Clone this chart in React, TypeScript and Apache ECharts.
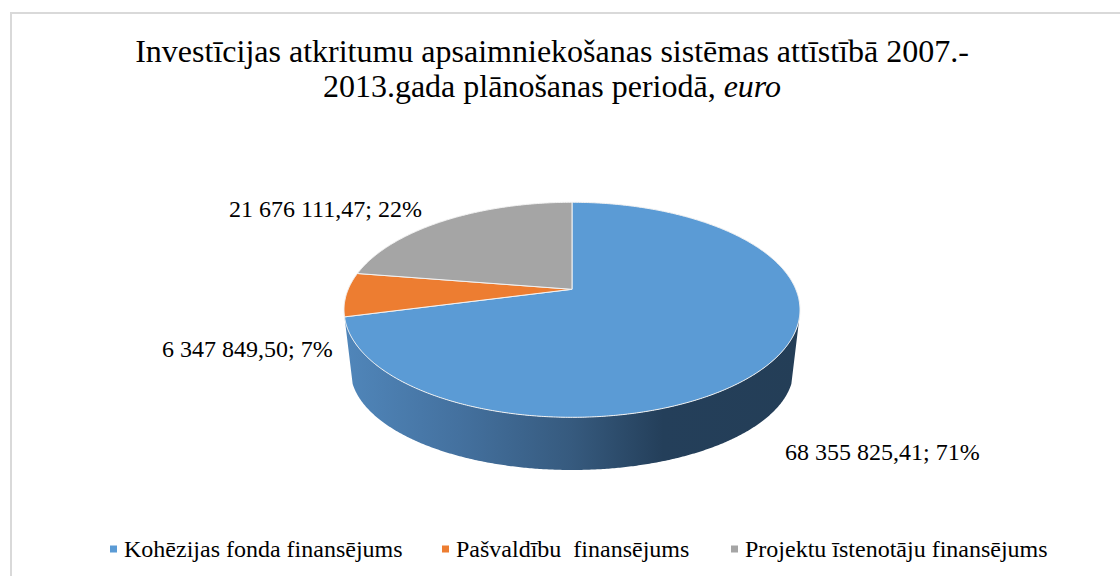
import React, { useEffect, useRef } from "react";
import * as echarts from "echarts";

const TITLE_LINE_1 = "Investīcijas atkritumu apsaimniekošanas sistēmas attīstībā 2007.-";
const TITLE_LINE_2 = "2013.gada plānošanas periodā, ";
const TITLE_ITALIC = "euro";
const categories = ["Kohēzijas fonda finansējums", "Pašvaldību  finansējums", "Projektu īstenotāju finansējums"];
const values = [68355825.41, 6347849.5, 21676111.47];
const valueLabels = ["68 355 825,41; 71%", "6 347 849,50; 7%", "21 676 111,47; 22%"];
const colors = ["#5B9BD5", "#ED7D31", "#A5A5A5"];

const FONT = '"Liberation Serif", "Times New Roman", serif';
const labelAnchors = [[785, 452], [162, 349], [229, 209]];
const legendLefts = [110, 442, 731];

// Perspective disc: a unit circle seen through a homography
const CX = 572, APEX_Y = 289.3, R = 223.8, H = 103.6, K = 0.1907;
function project(deg: number): number[] {
  const t = (deg * Math.PI) / 180;
  const u = Math.sin(t), v = -Math.cos(t);
  const w = 1 / (1 - K * v);
  return [CX + R * u * w, APEX_Y + H * v * w];
}
function bottomPoint(deg: number): number[] {
  const t = (deg * Math.PI) / 180;
  return [CX + 221.5 * Math.sin(t), 370 - 100 * Math.cos(t)];
}
function arcPoints(fn: (d: number) => number[], a: number, b: number): number[][] {
  const pts: number[][] = [];
  const n = Math.max(2, Math.ceil(Math.abs(b - a) * 2));
  for (let i = 0; i <= n; i++) pts.push(fn(a + ((b - a) * i) / n));
  return pts;
}

const total = values.reduce((s, v) => s + v, 0);
const starts: number[] = [];
values.reduce((acc, v, i) => {
  starts[i] = acc;
  return acc + (v / total) * 360;
}, 0);

function makeRender(i: number) {
  return () => {
    const a0 = starts[i];
    const a1 = a0 + (values[i] / total) * 360;
    const children: any[] = [];
    if (i === 0) {
      const wallEnd = Math.min(a1, 258);
      const wall = [...arcPoints(project, 104, wallEnd), ...arcPoints(bottomPoint, 262, 98)];
      children.push({
        type: "polygon",
        shape: { points: wall },
        style: {
          fill: {
            type: "linear", x: 0, y: 0, x2: 1, y2: 0,
            colorStops: [
              { offset: 0, color: "#5086BA" },
              { offset: 0.25, color: "#44719F" },
              { offset: 0.5, color: "#365A7E" },
              { offset: 0.7, color: "#243F5A" },
              { offset: 1, color: "#243E57" },
            ],
          },
        },
      });
    }
    children.push({
      type: "polygon",
      shape: { points: [[CX, APEX_Y], ...arcPoints(project, a0, a1)] },
      style: { fill: colors[i], stroke: "#F2F2F2", lineWidth: 1, lineJoin: "round" },
    });
    children.push({
      type: "text",
      x: labelAnchors[i][0],
      y: labelAnchors[i][1],
      style: {
        text: valueLabels[i],
        font: `24px ${FONT}`,
        fill: "#000",
        align: "left",
        verticalAlign: "middle",
      },
    });
    return { type: "group", children };
  };
}

export default function App() {
  const ref = useRef<HTMLDivElement>(null);
  useEffect(() => {
    const chart = echarts.init(ref.current!, undefined, { renderer: "svg" });
    chart.setOption({
      animation: false,
      backgroundColor: "#fff",
      title: {
        text: `{a|${TITLE_LINE_1}}\n{a|${TITLE_LINE_2}}{i|${TITLE_ITALIC}}`,
        left: 547,
        top: 28,
        textAlign: "center",
        textStyle: {
          fontWeight: "normal",
          rich: {
            a: { fontFamily: FONT, fontSize: 32, fontWeight: "normal", lineHeight: 35, color: "#000" },
            i: { fontFamily: FONT, fontSize: 32, fontWeight: "normal", lineHeight: 35, fontStyle: "italic", color: "#000" },
          },
        },
      },
      graphic: [
        {
          type: "rect",
          silent: true,
          z: -1,
          shape: { x: 11, y: 13, width: 1200, height: 700 },
          style: { fill: "none", stroke: "#D9D9D9", lineWidth: 2 },
        },
      ],
      legend: categories.map((c, i) => ({
        data: [c],
        left: legendLefts[i],
        top: 537,
        icon: "rect",
        itemWidth: 7,
        itemHeight: 7,
        itemGap: 0,
        padding: 0,
        selectedMode: false,
        textStyle: { fontFamily: FONT, fontSize: 24, color: "#000", padding: [0, 0, 0, 2] },
      })),
      series: categories.map((c, i) => ({
        type: "custom",
        name: c,
        coordinateSystem: "none",
        silent: true,
        itemStyle: { color: colors[i] },
        data: [values[i]],
        renderItem: makeRender(i),
      })),
    });
    return () => chart.dispose();
  }, []);
  return <div ref={ref} style={{ position: "absolute", left: 0, top: 0, width: 1120, height: 576 }} />;
}
